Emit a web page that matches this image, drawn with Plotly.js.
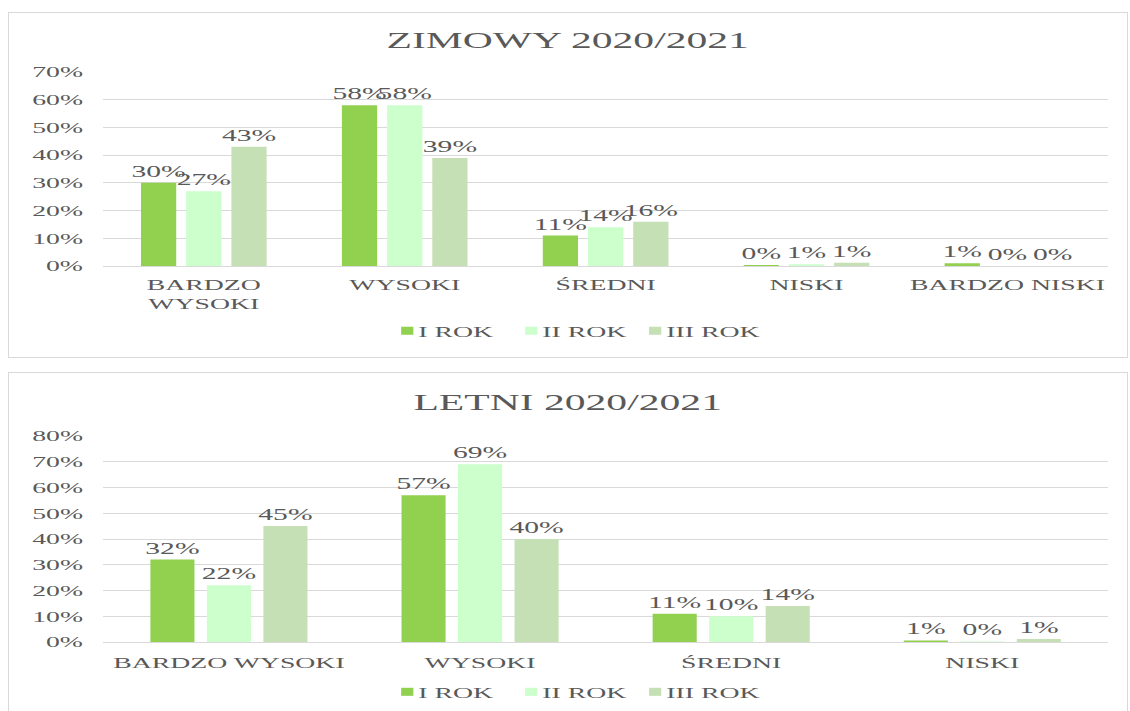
<!DOCTYPE html>
<html><head><meta charset="utf-8">
<script src="https://cdn.plot.ly/plotly-3.0.1.min.js"></script>
<style>
body{margin:0;background:#fff;width:1130px;height:711px;overflow:hidden;position:relative}
.panel{position:absolute;left:8px;width:1120px;border:1px solid #d9d9d9;box-sizing:border-box;overflow:hidden;background:#fff}
.inner{transform-origin:0 0;transform:scaleX(1.85);}
</style></head><body>
<div class="panel" style="top:12px;height:346px"><div class="inner" id="c1"></div></div>
<div class="panel" style="top:372px;height:345px"><div class="inner" id="c2"></div></div>
<script>
// ---- data ----
const seriesNames = ['I ROK', 'II ROK', 'III ROK'];
const seriesColors = ['#92D050', '#CCFFCC', '#C5E0B4'];

const winterTitle = 'ZIMOWY 2020/2021';
const winterCategories = ['BARDZO<br>WYSOKI', 'WYSOKI', 'ŚREDNI', 'NISKI', 'BARDZO NISKI'];
const winterRok1 = [30, 58, 11, 0.4, 1];
const winterRok2 = [27, 58, 14, 0.6, 0];
const winterRok3 = [43, 39, 16, 1.2, 0];

const summerTitle = 'LETNI 2020/2021';
const summerCategories = ['BARDZO WYSOKI', 'WYSOKI', 'ŚREDNI', 'NISKI'];
const summerRok1 = [32, 57, 11, 0.6];
const summerRok2 = [22, 69, 10, 0.2];
const summerRok3 = [45, 40, 14, 1.2];

const FONT = 'Liberation Serif, Times New Roman, serif';
const GREY = '#595959';
const INNER_W = 604;

function traces(cats, vals) {
  return vals.map((v, i) => ({
    type: 'bar', name: seriesNames[i], x: cats, y: v,
    marker: {color: seriesColors[i]},
    texttemplate: '%{y:.0f}%', textposition: 'outside', cliponaxis: false,
    constraintext: 'none',
    textfont: {family: FONT, size: 16, color: GREY},
    hoverinfo: 'skip'
  }));
}

function layout(title, titleY, h, t, b, ymax, legY, xStandoff) {
  return {
    width: INNER_W, height: h,
    margin: {l: 51, r: 10, t: t, b: b},
    paper_bgcolor: '#fff', plot_bgcolor: '#fff',
    title: {text: title, font: {family: FONT, size: 22.5, color: GREY}, x: 0.5, xanchor: 'center', y: titleY, yanchor: 'middle'},
    barmode: 'group', bargap: 0.325, bargroupgap: 0.22,
    showlegend: true,
    legend: {orientation: 'h', x: 0.425, xanchor: 'center', y: legY, yanchor: 'middle',
      font: {family: FONT, size: 15, color: GREY}, itemwidth: 30, entrywidth: 22, entrywidthmode: 'pixels'},
    xaxis: {showgrid: false, showline: false, zeroline: false, ticks: '', ticklabelstandoff: xStandoff,
      tickfont: {family: FONT, size: 15, color: GREY}, fixedrange: true},
    yaxis: {range: [0, ymax], dtick: 10, ticksuffix: '%', gridcolor: '#d9d9d9', gridwidth: 1,
      zeroline: true, zerolinecolor: '#d9d9d9', zerolinewidth: 1, showline: false, ticks: '',
      ticklabelstandoff: 10,
      tickfont: {family: FONT, size: 15, color: GREY}, fixedrange: true}
  };
}

function fixLegend(id) {
  const leg = document.querySelector('#' + id + ' .legend');
  if (!leg) return;
  leg.querySelectorAll('[clip-path]').forEach(e => e.removeAttribute('clip-path'));
  leg.querySelectorAll('.traces .legendpoints').forEach(lp => {
    lp.setAttribute('transform', 'translate(34,0) scale(0.55,0.67) translate(-20,0)');
  });
}

Plotly.newPlot('c1', traces(winterCategories, [winterRok1, winterRok2, winterRok3]),
  layout(winterTitle, 1 - 27/346, 344, 59, 83, 70, -0.335, 8), {displayModeBar: false, staticPlot: true})
  .then(() => fixLegend('c1'));
Plotly.newPlot('c2', traces(summerCategories, [summerRok1, summerRok2, summerRok3]),
  layout(summerTitle, 1 - 29/345, 345, 63, 70, 80, -0.243, 10), {displayModeBar: false, staticPlot: true})
  .then(() => fixLegend('c2'));
</script>
</body></html>
